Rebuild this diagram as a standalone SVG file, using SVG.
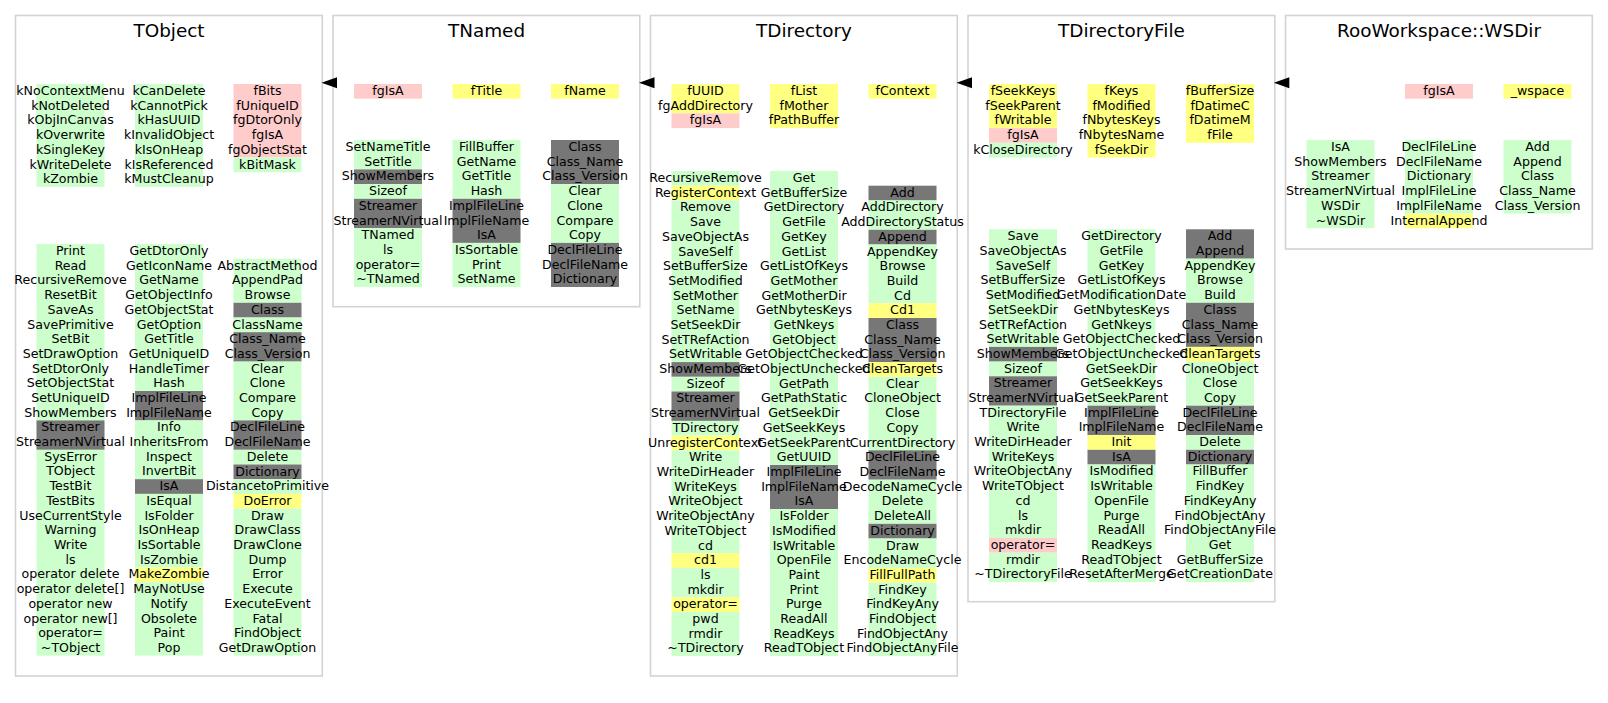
<svg xmlns="http://www.w3.org/2000/svg" width="1608" height="703" viewBox="0 0 1608 703">
<style>
.bg{fill:#ffffff}
.panel{fill:#ffffff;stroke:#d3d3d3;stroke-width:1.6}
.title{font-family:"DejaVu Sans","Liberation Sans",sans-serif;font-size:18.4px;text-anchor:middle;fill:#000}
.t{font-family:"DejaVu Sans","Liberation Sans",sans-serif;font-size:12.6px;text-anchor:middle;fill:#000}
.g{fill:#ccffcc}
.p{fill:#ffcccc}
.y{fill:#ffff80}
.d{fill:#777777}
.arrow{fill:#000}
</style>
<rect class="bg" x="0" y="0" width="1608" height="703"/>

<g id="TObject">
<rect class="panel" x="15.5" y="15.5" width="306.8" height="660.5"/>
<text class="title" x="169" y="37">TObject</text>
<rect class="g" x="36.5" y="84" width="68" height="102.9"/>
<rect class="g" x="135" y="84" width="68" height="102.9"/>
<rect class="p" x="233.5" y="84" width="68" height="73.5"/>
<rect class="g" x="233.5" y="157.5" width="68" height="14.7"/>
<text class="t" x="70.5" y="95"><tspan x="70.5">kNoContextMenu</tspan><tspan x="70.5" dy="14.7">kNotDeleted</tspan><tspan x="70.5" dy="14.7">kObjInCanvas</tspan><tspan x="70.5" dy="14.7">kOverwrite</tspan><tspan x="70.5" dy="14.7">kSingleKey</tspan><tspan x="70.5" dy="14.7">kWriteDelete</tspan><tspan x="70.5" dy="14.7">kZombie</tspan></text>
<text class="t" x="169" y="95"><tspan x="169">kCanDelete</tspan><tspan x="169" dy="14.7">kCannotPick</tspan><tspan x="169" dy="14.7">kHasUUID</tspan><tspan x="169" dy="14.7">kInvalidObject</tspan><tspan x="169" dy="14.7">kIsOnHeap</tspan><tspan x="169" dy="14.7">kIsReferenced</tspan><tspan x="169" dy="14.7">kMustCleanup</tspan></text>
<text class="t" x="267.5" y="95"><tspan x="267.5">fBits</tspan><tspan x="267.5" dy="14.7">fUniqueID</tspan><tspan x="267.5" dy="14.7">fgDtorOnly</tspan><tspan x="267.5" dy="14.7">fgIsA</tspan><tspan x="267.5" dy="14.7">fgObjectStat</tspan><tspan x="267.5" dy="14.7">kBitMask</tspan></text>
<rect class="g" x="36.5" y="244" width="68" height="176.4"/>
<rect class="d" x="36.5" y="420.4" width="68" height="29.4"/>
<rect class="g" x="36.5" y="449.8" width="68" height="205.8"/>
<rect class="g" x="135" y="244" width="68" height="147"/>
<rect class="d" x="135" y="391" width="68" height="29.4"/>
<rect class="g" x="135" y="420.4" width="68" height="58.8"/>
<rect class="d" x="135" y="479.2" width="68" height="14.7"/>
<rect class="g" x="135" y="493.9" width="68" height="73.5"/>
<rect class="y" x="135" y="567.4" width="68" height="14.7"/>
<rect class="g" x="135" y="582.1" width="68" height="73.5"/>
<rect class="g" x="233.5" y="258.7" width="68" height="44.1"/>
<rect class="d" x="233.5" y="302.8" width="68" height="14.7"/>
<rect class="g" x="233.5" y="317.5" width="68" height="14.7"/>
<rect class="d" x="233.5" y="332.2" width="68" height="29.4"/>
<rect class="g" x="233.5" y="361.6" width="68" height="58.8"/>
<rect class="d" x="233.5" y="420.4" width="68" height="29.4"/>
<rect class="g" x="233.5" y="449.8" width="68" height="14.7"/>
<rect class="d" x="233.5" y="464.5" width="68" height="14.7"/>
<rect class="g" x="233.5" y="479.2" width="68" height="14.7"/>
<rect class="y" x="233.5" y="493.9" width="68" height="14.7"/>
<rect class="g" x="233.5" y="508.6" width="68" height="147"/>
<text class="t" x="70.5" y="255"><tspan x="70.5">Print</tspan><tspan x="70.5" dy="14.7">Read</tspan><tspan x="70.5" dy="14.7">RecursiveRemove</tspan><tspan x="70.5" dy="14.7">ResetBit</tspan><tspan x="70.5" dy="14.7">SaveAs</tspan><tspan x="70.5" dy="14.7">SavePrimitive</tspan><tspan x="70.5" dy="14.7">SetBit</tspan><tspan x="70.5" dy="14.7">SetDrawOption</tspan><tspan x="70.5" dy="14.7">SetDtorOnly</tspan><tspan x="70.5" dy="14.7">SetObjectStat</tspan><tspan x="70.5" dy="14.7">SetUniqueID</tspan><tspan x="70.5" dy="14.7">ShowMembers</tspan><tspan x="70.5" dy="14.7">Streamer</tspan><tspan x="70.5" dy="14.7">StreamerNVirtual</tspan><tspan x="70.5" dy="14.7">SysError</tspan><tspan x="70.5" dy="14.7">TObject</tspan><tspan x="70.5" dy="14.7">TestBit</tspan><tspan x="70.5" dy="14.7">TestBits</tspan><tspan x="70.5" dy="14.7">UseCurrentStyle</tspan><tspan x="70.5" dy="14.7">Warning</tspan><tspan x="70.5" dy="14.7">Write</tspan><tspan x="70.5" dy="14.7">ls</tspan><tspan x="70.5" dy="14.7">operator delete</tspan><tspan x="70.5" dy="14.7">operator delete[]</tspan><tspan x="70.5" dy="14.7">operator new</tspan><tspan x="70.5" dy="14.7">operator new[]</tspan><tspan x="70.5" dy="14.7">operator=</tspan><tspan x="70.5" dy="14.7">~TObject</tspan></text>
<text class="t" x="169" y="255"><tspan x="169">GetDtorOnly</tspan><tspan x="169" dy="14.7">GetIconName</tspan><tspan x="169" dy="14.7">GetName</tspan><tspan x="169" dy="14.7">GetObjectInfo</tspan><tspan x="169" dy="14.7">GetObjectStat</tspan><tspan x="169" dy="14.7">GetOption</tspan><tspan x="169" dy="14.7">GetTitle</tspan><tspan x="169" dy="14.7">GetUniqueID</tspan><tspan x="169" dy="14.7">HandleTimer</tspan><tspan x="169" dy="14.7">Hash</tspan><tspan x="169" dy="14.7">ImplFileLine</tspan><tspan x="169" dy="14.7">ImplFileName</tspan><tspan x="169" dy="14.7">Info</tspan><tspan x="169" dy="14.7">InheritsFrom</tspan><tspan x="169" dy="14.7">Inspect</tspan><tspan x="169" dy="14.7">InvertBit</tspan><tspan x="169" dy="14.7">IsA</tspan><tspan x="169" dy="14.7">IsEqual</tspan><tspan x="169" dy="14.7">IsFolder</tspan><tspan x="169" dy="14.7">IsOnHeap</tspan><tspan x="169" dy="14.7">IsSortable</tspan><tspan x="169" dy="14.7">IsZombie</tspan><tspan x="169" dy="14.7">MakeZombie</tspan><tspan x="169" dy="14.7">MayNotUse</tspan><tspan x="169" dy="14.7">Notify</tspan><tspan x="169" dy="14.7">Obsolete</tspan><tspan x="169" dy="14.7">Paint</tspan><tspan x="169" dy="14.7">Pop</tspan></text>
<text class="t" x="267.5" y="269.7"><tspan x="267.5">AbstractMethod</tspan><tspan x="267.5" dy="14.7">AppendPad</tspan><tspan x="267.5" dy="14.7">Browse</tspan><tspan x="267.5" dy="14.7">Class</tspan><tspan x="267.5" dy="14.7">ClassName</tspan><tspan x="267.5" dy="14.7">Class_Name</tspan><tspan x="267.5" dy="14.7">Class_Version</tspan><tspan x="267.5" dy="14.7">Clear</tspan><tspan x="267.5" dy="14.7">Clone</tspan><tspan x="267.5" dy="14.7">Compare</tspan><tspan x="267.5" dy="14.7">Copy</tspan><tspan x="267.5" dy="14.7">DeclFileLine</tspan><tspan x="267.5" dy="14.7">DeclFileName</tspan><tspan x="267.5" dy="14.7">Delete</tspan><tspan x="267.5" dy="14.7">Dictionary</tspan><tspan x="267.5" dy="14.7">DistancetoPrimitive</tspan><tspan x="267.5" dy="14.7">DoError</tspan><tspan x="267.5" dy="14.7">Draw</tspan><tspan x="267.5" dy="14.7">DrawClass</tspan><tspan x="267.5" dy="14.7">DrawClone</tspan><tspan x="267.5" dy="14.7">Dump</tspan><tspan x="267.5" dy="14.7">Error</tspan><tspan x="267.5" dy="14.7">Execute</tspan><tspan x="267.5" dy="14.7">ExecuteEvent</tspan><tspan x="267.5" dy="14.7">Fatal</tspan><tspan x="267.5" dy="14.7">FindObject</tspan><tspan x="267.5" dy="14.7">GetDrawOption</tspan></text>
</g>

<g id="TNamed">
<rect class="panel" x="333" y="15.5" width="306.8" height="291.2"/>
<text class="title" x="486.5" y="37">TNamed</text>
<rect class="p" x="354" y="84" width="68" height="14.7"/>
<rect class="y" x="452.5" y="84" width="68" height="14.7"/>
<rect class="y" x="551" y="84" width="68" height="14.7"/>
<text class="t" x="388" y="95">fgIsA</text>
<text class="t" x="486.5" y="95">fTitle</text>
<text class="t" x="585" y="95">fName</text>
<rect class="g" x="354" y="140" width="68" height="29.4"/>
<rect class="d" x="354" y="169.4" width="68" height="14.7"/>
<rect class="g" x="354" y="184.1" width="68" height="14.7"/>
<rect class="d" x="354" y="198.8" width="68" height="29.4"/>
<rect class="g" x="354" y="228.2" width="68" height="58.8"/>
<rect class="g" x="452.5" y="140" width="68" height="58.8"/>
<rect class="d" x="452.5" y="198.8" width="68" height="44.1"/>
<rect class="g" x="452.5" y="242.9" width="68" height="44.1"/>
<rect class="d" x="551" y="140" width="68" height="44.1"/>
<rect class="g" x="551" y="184.1" width="68" height="58.8"/>
<rect class="d" x="551" y="242.9" width="68" height="44.1"/>
<text class="t" x="388" y="151"><tspan x="388">SetNameTitle</tspan><tspan x="388" dy="14.7">SetTitle</tspan><tspan x="388" dy="14.7">ShowMembers</tspan><tspan x="388" dy="14.7">Sizeof</tspan><tspan x="388" dy="14.7">Streamer</tspan><tspan x="388" dy="14.7">StreamerNVirtual</tspan><tspan x="388" dy="14.7">TNamed</tspan><tspan x="388" dy="14.7">ls</tspan><tspan x="388" dy="14.7">operator=</tspan><tspan x="388" dy="14.7">~TNamed</tspan></text>
<text class="t" x="486.5" y="151"><tspan x="486.5">FillBuffer</tspan><tspan x="486.5" dy="14.7">GetName</tspan><tspan x="486.5" dy="14.7">GetTitle</tspan><tspan x="486.5" dy="14.7">Hash</tspan><tspan x="486.5" dy="14.7">ImplFileLine</tspan><tspan x="486.5" dy="14.7">ImplFileName</tspan><tspan x="486.5" dy="14.7">IsA</tspan><tspan x="486.5" dy="14.7">IsSortable</tspan><tspan x="486.5" dy="14.7">Print</tspan><tspan x="486.5" dy="14.7">SetName</tspan></text>
<text class="t" x="585" y="151"><tspan x="585">Class</tspan><tspan x="585" dy="14.7">Class_Name</tspan><tspan x="585" dy="14.7">Class_Version</tspan><tspan x="585" dy="14.7">Clear</tspan><tspan x="585" dy="14.7">Clone</tspan><tspan x="585" dy="14.7">Compare</tspan><tspan x="585" dy="14.7">Copy</tspan><tspan x="585" dy="14.7">DeclFileLine</tspan><tspan x="585" dy="14.7">DeclFileName</tspan><tspan x="585" dy="14.7">Dictionary</tspan></text>
</g>

<g id="TDirectory">
<rect class="panel" x="650.5" y="15.5" width="306.8" height="660.5"/>
<text class="title" x="804" y="37">TDirectory</text>
<rect class="y" x="671.5" y="84" width="68" height="29.4"/>
<rect class="p" x="671.5" y="113.4" width="68" height="14.7"/>
<rect class="y" x="770" y="84" width="68" height="44.1"/>
<rect class="y" x="868.5" y="84" width="68" height="14.7"/>
<text class="t" x="705.5" y="95"><tspan x="705.5">fUUID</tspan><tspan x="705.5" dy="14.7">fgAddDirectory</tspan><tspan x="705.5" dy="14.7">fgIsA</tspan></text>
<text class="t" x="804" y="95"><tspan x="804">fList</tspan><tspan x="804" dy="14.7">fMother</tspan><tspan x="804" dy="14.7">fPathBuffer</tspan></text>
<text class="t" x="902.5" y="95">fContext</text>
<rect class="g" x="671.5" y="171" width="68" height="14.7"/>
<rect class="y" x="671.5" y="185.7" width="68" height="14.7"/>
<rect class="g" x="671.5" y="200.4" width="68" height="161.7"/>
<rect class="d" x="671.5" y="362.1" width="68" height="14.7"/>
<rect class="g" x="671.5" y="376.8" width="68" height="14.7"/>
<rect class="d" x="671.5" y="391.5" width="68" height="29.4"/>
<rect class="g" x="671.5" y="420.9" width="68" height="14.7"/>
<rect class="y" x="671.5" y="435.6" width="68" height="14.7"/>
<rect class="g" x="671.5" y="450.3" width="68" height="102.9"/>
<rect class="y" x="671.5" y="553.2" width="68" height="14.7"/>
<rect class="g" x="671.5" y="567.9" width="68" height="29.4"/>
<rect class="y" x="671.5" y="597.3" width="68" height="14.7"/>
<rect class="g" x="671.5" y="612" width="68" height="44.1"/>
<rect class="g" x="770" y="171" width="68" height="294"/>
<rect class="d" x="770" y="465" width="68" height="44.1"/>
<rect class="g" x="770" y="509.1" width="68" height="147"/>
<rect class="d" x="868.5" y="185.7" width="68" height="14.7"/>
<rect class="g" x="868.5" y="200.4" width="68" height="29.4"/>
<rect class="d" x="868.5" y="229.8" width="68" height="14.7"/>
<rect class="g" x="868.5" y="244.5" width="68" height="58.8"/>
<rect class="y" x="868.5" y="303.3" width="68" height="14.7"/>
<rect class="d" x="868.5" y="318" width="68" height="44.1"/>
<rect class="y" x="868.5" y="362.1" width="68" height="14.7"/>
<rect class="g" x="868.5" y="376.8" width="68" height="73.5"/>
<rect class="d" x="868.5" y="450.3" width="68" height="29.4"/>
<rect class="g" x="868.5" y="479.7" width="68" height="44.1"/>
<rect class="d" x="868.5" y="523.8" width="68" height="14.7"/>
<rect class="g" x="868.5" y="538.5" width="68" height="29.4"/>
<rect class="y" x="868.5" y="567.9" width="68" height="14.7"/>
<rect class="g" x="868.5" y="582.6" width="68" height="73.5"/>
<text class="t" x="705.5" y="182"><tspan x="705.5">RecursiveRemove</tspan><tspan x="705.5" dy="14.7">RegisterContext</tspan><tspan x="705.5" dy="14.7">Remove</tspan><tspan x="705.5" dy="14.7">Save</tspan><tspan x="705.5" dy="14.7">SaveObjectAs</tspan><tspan x="705.5" dy="14.7">SaveSelf</tspan><tspan x="705.5" dy="14.7">SetBufferSize</tspan><tspan x="705.5" dy="14.7">SetModified</tspan><tspan x="705.5" dy="14.7">SetMother</tspan><tspan x="705.5" dy="14.7">SetName</tspan><tspan x="705.5" dy="14.7">SetSeekDir</tspan><tspan x="705.5" dy="14.7">SetTRefAction</tspan><tspan x="705.5" dy="14.7">SetWritable</tspan><tspan x="705.5" dy="14.7">ShowMembers</tspan><tspan x="705.5" dy="14.7">Sizeof</tspan><tspan x="705.5" dy="14.7">Streamer</tspan><tspan x="705.5" dy="14.7">StreamerNVirtual</tspan><tspan x="705.5" dy="14.7">TDirectory</tspan><tspan x="705.5" dy="14.7">UnregisterContext</tspan><tspan x="705.5" dy="14.7">Write</tspan><tspan x="705.5" dy="14.7">WriteDirHeader</tspan><tspan x="705.5" dy="14.7">WriteKeys</tspan><tspan x="705.5" dy="14.7">WriteObject</tspan><tspan x="705.5" dy="14.7">WriteObjectAny</tspan><tspan x="705.5" dy="14.7">WriteTObject</tspan><tspan x="705.5" dy="14.7">cd</tspan><tspan x="705.5" dy="14.7">cd1</tspan><tspan x="705.5" dy="14.7">ls</tspan><tspan x="705.5" dy="14.7">mkdir</tspan><tspan x="705.5" dy="14.7">operator=</tspan><tspan x="705.5" dy="14.7">pwd</tspan><tspan x="705.5" dy="14.7">rmdir</tspan><tspan x="705.5" dy="14.7">~TDirectory</tspan></text>
<text class="t" x="804" y="182"><tspan x="804">Get</tspan><tspan x="804" dy="14.7">GetBufferSize</tspan><tspan x="804" dy="14.7">GetDirectory</tspan><tspan x="804" dy="14.7">GetFile</tspan><tspan x="804" dy="14.7">GetKey</tspan><tspan x="804" dy="14.7">GetList</tspan><tspan x="804" dy="14.7">GetListOfKeys</tspan><tspan x="804" dy="14.7">GetMother</tspan><tspan x="804" dy="14.7">GetMotherDir</tspan><tspan x="804" dy="14.7">GetNbytesKeys</tspan><tspan x="804" dy="14.7">GetNkeys</tspan><tspan x="804" dy="14.7">GetObject</tspan><tspan x="804" dy="14.7">GetObjectChecked</tspan><tspan x="804" dy="14.7">GetObjectUnchecked</tspan><tspan x="804" dy="14.7">GetPath</tspan><tspan x="804" dy="14.7">GetPathStatic</tspan><tspan x="804" dy="14.7">GetSeekDir</tspan><tspan x="804" dy="14.7">GetSeekKeys</tspan><tspan x="804" dy="14.7">GetSeekParent</tspan><tspan x="804" dy="14.7">GetUUID</tspan><tspan x="804" dy="14.7">ImplFileLine</tspan><tspan x="804" dy="14.7">ImplFileName</tspan><tspan x="804" dy="14.7">IsA</tspan><tspan x="804" dy="14.7">IsFolder</tspan><tspan x="804" dy="14.7">IsModified</tspan><tspan x="804" dy="14.7">IsWritable</tspan><tspan x="804" dy="14.7">OpenFile</tspan><tspan x="804" dy="14.7">Paint</tspan><tspan x="804" dy="14.7">Print</tspan><tspan x="804" dy="14.7">Purge</tspan><tspan x="804" dy="14.7">ReadAll</tspan><tspan x="804" dy="14.7">ReadKeys</tspan><tspan x="804" dy="14.7">ReadTObject</tspan></text>
<text class="t" x="902.5" y="196.7"><tspan x="902.5">Add</tspan><tspan x="902.5" dy="14.7">AddDirectory</tspan><tspan x="902.5" dy="14.7">AddDirectoryStatus</tspan><tspan x="902.5" dy="14.7">Append</tspan><tspan x="902.5" dy="14.7">AppendKey</tspan><tspan x="902.5" dy="14.7">Browse</tspan><tspan x="902.5" dy="14.7">Build</tspan><tspan x="902.5" dy="14.7">Cd</tspan><tspan x="902.5" dy="14.7">Cd1</tspan><tspan x="902.5" dy="14.7">Class</tspan><tspan x="902.5" dy="14.7">Class_Name</tspan><tspan x="902.5" dy="14.7">Class_Version</tspan><tspan x="902.5" dy="14.7">CleanTargets</tspan><tspan x="902.5" dy="14.7">Clear</tspan><tspan x="902.5" dy="14.7">CloneObject</tspan><tspan x="902.5" dy="14.7">Close</tspan><tspan x="902.5" dy="14.7">Copy</tspan><tspan x="902.5" dy="14.7">CurrentDirectory</tspan><tspan x="902.5" dy="14.7">DeclFileLine</tspan><tspan x="902.5" dy="14.7">DeclFileName</tspan><tspan x="902.5" dy="14.7">DecodeNameCycle</tspan><tspan x="902.5" dy="14.7">Delete</tspan><tspan x="902.5" dy="14.7">DeleteAll</tspan><tspan x="902.5" dy="14.7">Dictionary</tspan><tspan x="902.5" dy="14.7">Draw</tspan><tspan x="902.5" dy="14.7">EncodeNameCycle</tspan><tspan x="902.5" dy="14.7">FillFullPath</tspan><tspan x="902.5" dy="14.7">FindKey</tspan><tspan x="902.5" dy="14.7">FindKeyAny</tspan><tspan x="902.5" dy="14.7">FindObject</tspan><tspan x="902.5" dy="14.7">FindObjectAny</tspan><tspan x="902.5" dy="14.7">FindObjectAnyFile</tspan></text>
</g>

<g id="TDirectoryFile">
<rect class="panel" x="968" y="15.5" width="306.8" height="586.2"/>
<text class="title" x="1121.5" y="37">TDirectoryFile</text>
<rect class="y" x="989" y="84" width="68" height="44.1"/>
<rect class="p" x="989" y="128.1" width="68" height="14.7"/>
<rect class="g" x="989" y="142.8" width="68" height="14.7"/>
<rect class="y" x="1087.5" y="84" width="68" height="73.5"/>
<rect class="y" x="1186" y="84" width="68" height="58.8"/>
<text class="t" x="1023" y="95"><tspan x="1023">fSeekKeys</tspan><tspan x="1023" dy="14.7">fSeekParent</tspan><tspan x="1023" dy="14.7">fWritable</tspan><tspan x="1023" dy="14.7">fgIsA</tspan><tspan x="1023" dy="14.7">kCloseDirectory</tspan></text>
<text class="t" x="1121.5" y="95"><tspan x="1121.5">fKeys</tspan><tspan x="1121.5" dy="14.7">fModified</tspan><tspan x="1121.5" dy="14.7">fNbytesKeys</tspan><tspan x="1121.5" dy="14.7">fNbytesName</tspan><tspan x="1121.5" dy="14.7">fSeekDir</tspan></text>
<text class="t" x="1220" y="95"><tspan x="1220">fBufferSize</tspan><tspan x="1220" dy="14.7">fDatimeC</tspan><tspan x="1220" dy="14.7">fDatimeM</tspan><tspan x="1220" dy="14.7">fFile</tspan></text>
<rect class="g" x="989" y="229.3" width="68" height="117.6"/>
<rect class="d" x="989" y="346.9" width="68" height="14.7"/>
<rect class="g" x="989" y="361.6" width="68" height="14.7"/>
<rect class="d" x="989" y="376.3" width="68" height="29.4"/>
<rect class="g" x="989" y="405.7" width="68" height="132.3"/>
<rect class="p" x="989" y="538" width="68" height="14.7"/>
<rect class="g" x="989" y="552.7" width="68" height="29.4"/>
<rect class="g" x="1087.5" y="229.3" width="68" height="176.4"/>
<rect class="d" x="1087.5" y="405.7" width="68" height="29.4"/>
<rect class="y" x="1087.5" y="435.1" width="68" height="14.7"/>
<rect class="d" x="1087.5" y="449.8" width="68" height="14.7"/>
<rect class="g" x="1087.5" y="464.5" width="68" height="117.6"/>
<rect class="d" x="1186" y="229.3" width="68" height="29.4"/>
<rect class="g" x="1186" y="258.7" width="68" height="44.1"/>
<rect class="d" x="1186" y="302.8" width="68" height="44.1"/>
<rect class="y" x="1186" y="346.9" width="68" height="14.7"/>
<rect class="g" x="1186" y="361.6" width="68" height="44.1"/>
<rect class="d" x="1186" y="405.7" width="68" height="29.4"/>
<rect class="g" x="1186" y="435.1" width="68" height="14.7"/>
<rect class="d" x="1186" y="449.8" width="68" height="14.7"/>
<rect class="g" x="1186" y="464.5" width="68" height="117.6"/>
<text class="t" x="1023" y="240.3"><tspan x="1023">Save</tspan><tspan x="1023" dy="14.7">SaveObjectAs</tspan><tspan x="1023" dy="14.7">SaveSelf</tspan><tspan x="1023" dy="14.7">SetBufferSize</tspan><tspan x="1023" dy="14.7">SetModified</tspan><tspan x="1023" dy="14.7">SetSeekDir</tspan><tspan x="1023" dy="14.7">SetTRefAction</tspan><tspan x="1023" dy="14.7">SetWritable</tspan><tspan x="1023" dy="14.7">ShowMembers</tspan><tspan x="1023" dy="14.7">Sizeof</tspan><tspan x="1023" dy="14.7">Streamer</tspan><tspan x="1023" dy="14.7">StreamerNVirtual</tspan><tspan x="1023" dy="14.7">TDirectoryFile</tspan><tspan x="1023" dy="14.7">Write</tspan><tspan x="1023" dy="14.7">WriteDirHeader</tspan><tspan x="1023" dy="14.7">WriteKeys</tspan><tspan x="1023" dy="14.7">WriteObjectAny</tspan><tspan x="1023" dy="14.7">WriteTObject</tspan><tspan x="1023" dy="14.7">cd</tspan><tspan x="1023" dy="14.7">ls</tspan><tspan x="1023" dy="14.7">mkdir</tspan><tspan x="1023" dy="14.7">operator=</tspan><tspan x="1023" dy="14.7">rmdir</tspan><tspan x="1023" dy="14.7">~TDirectoryFile</tspan></text>
<text class="t" x="1121.5" y="240.3"><tspan x="1121.5">GetDirectory</tspan><tspan x="1121.5" dy="14.7">GetFile</tspan><tspan x="1121.5" dy="14.7">GetKey</tspan><tspan x="1121.5" dy="14.7">GetListOfKeys</tspan><tspan x="1121.5" dy="14.7">GetModificationDate</tspan><tspan x="1121.5" dy="14.7">GetNbytesKeys</tspan><tspan x="1121.5" dy="14.7">GetNkeys</tspan><tspan x="1121.5" dy="14.7">GetObjectChecked</tspan><tspan x="1121.5" dy="14.7">GetObjectUnchecked</tspan><tspan x="1121.5" dy="14.7">GetSeekDir</tspan><tspan x="1121.5" dy="14.7">GetSeekKeys</tspan><tspan x="1121.5" dy="14.7">GetSeekParent</tspan><tspan x="1121.5" dy="14.7">ImplFileLine</tspan><tspan x="1121.5" dy="14.7">ImplFileName</tspan><tspan x="1121.5" dy="14.7">Init</tspan><tspan x="1121.5" dy="14.7">IsA</tspan><tspan x="1121.5" dy="14.7">IsModified</tspan><tspan x="1121.5" dy="14.7">IsWritable</tspan><tspan x="1121.5" dy="14.7">OpenFile</tspan><tspan x="1121.5" dy="14.7">Purge</tspan><tspan x="1121.5" dy="14.7">ReadAll</tspan><tspan x="1121.5" dy="14.7">ReadKeys</tspan><tspan x="1121.5" dy="14.7">ReadTObject</tspan><tspan x="1121.5" dy="14.7">ResetAfterMerge</tspan></text>
<text class="t" x="1220" y="240.3"><tspan x="1220">Add</tspan><tspan x="1220" dy="14.7">Append</tspan><tspan x="1220" dy="14.7">AppendKey</tspan><tspan x="1220" dy="14.7">Browse</tspan><tspan x="1220" dy="14.7">Build</tspan><tspan x="1220" dy="14.7">Class</tspan><tspan x="1220" dy="14.7">Class_Name</tspan><tspan x="1220" dy="14.7">Class_Version</tspan><tspan x="1220" dy="14.7">CleanTargets</tspan><tspan x="1220" dy="14.7">CloneObject</tspan><tspan x="1220" dy="14.7">Close</tspan><tspan x="1220" dy="14.7">Copy</tspan><tspan x="1220" dy="14.7">DeclFileLine</tspan><tspan x="1220" dy="14.7">DeclFileName</tspan><tspan x="1220" dy="14.7">Delete</tspan><tspan x="1220" dy="14.7">Dictionary</tspan><tspan x="1220" dy="14.7">FillBuffer</tspan><tspan x="1220" dy="14.7">FindKey</tspan><tspan x="1220" dy="14.7">FindKeyAny</tspan><tspan x="1220" dy="14.7">FindObjectAny</tspan><tspan x="1220" dy="14.7">FindObjectAnyFile</tspan><tspan x="1220" dy="14.7">Get</tspan><tspan x="1220" dy="14.7">GetBufferSize</tspan><tspan x="1220" dy="14.7">GetCreationDate</tspan></text>
</g>

<g id="WSDir">
<rect class="panel" x="1285.5" y="15.5" width="306.8" height="233.5"/>
<text class="title" x="1439" y="37">RooWorkspace::WSDir</text>
<rect class="p" x="1405" y="84" width="68" height="14.7"/>
<rect class="y" x="1503.5" y="84" width="68" height="14.7"/>
<text class="t" x="1439" y="95">fgIsA</text>
<text class="t" x="1537.5" y="95">_wspace</text>
<rect class="g" x="1306.5" y="140" width="68" height="88.2"/>
<rect class="g" x="1405" y="140" width="68" height="73.5"/>
<rect class="y" x="1405" y="213.5" width="68" height="14.7"/>
<rect class="g" x="1503.5" y="140" width="68" height="73.5"/>
<text class="t" x="1340.5" y="151"><tspan x="1340.5">IsA</tspan><tspan x="1340.5" dy="14.7">ShowMembers</tspan><tspan x="1340.5" dy="14.7">Streamer</tspan><tspan x="1340.5" dy="14.7">StreamerNVirtual</tspan><tspan x="1340.5" dy="14.7">WSDir</tspan><tspan x="1340.5" dy="14.7">~WSDir</tspan></text>
<text class="t" x="1439" y="151"><tspan x="1439">DeclFileLine</tspan><tspan x="1439" dy="14.7">DeclFileName</tspan><tspan x="1439" dy="14.7">Dictionary</tspan><tspan x="1439" dy="14.7">ImplFileLine</tspan><tspan x="1439" dy="14.7">ImplFileName</tspan><tspan x="1439" dy="14.7">InternalAppend</tspan></text>
<text class="t" x="1537.5" y="151"><tspan x="1537.5">Add</tspan><tspan x="1537.5" dy="14.7">Append</tspan><tspan x="1537.5" dy="14.7">Class</tspan><tspan x="1537.5" dy="14.7">Class_Name</tspan><tspan x="1537.5" dy="14.7">Class_Version</tspan></text>
</g>

<g id="connectors">
<polygon class="arrow" points="321.5,82.7 337,77.2 337,88.2"/>
<polygon class="arrow" points="639,82.7 654.5,77.2 654.5,88.2"/>
<polygon class="arrow" points="956.5,82.7 972,77.2 972,88.2"/>
<polygon class="arrow" points="1273.8,82.7 1289.3,77.2 1289.3,88.2"/>
</g>
</svg>
